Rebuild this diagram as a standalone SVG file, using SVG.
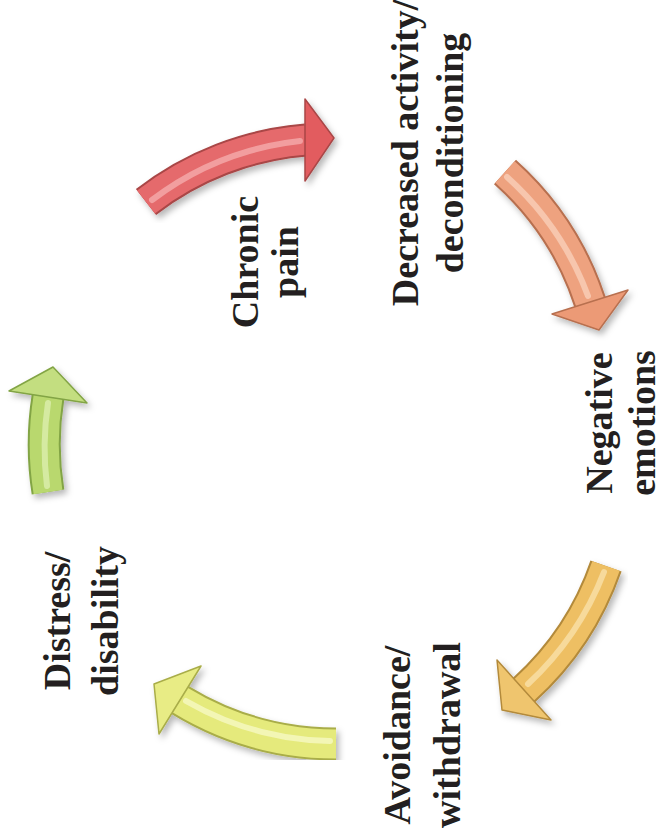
<svg xmlns="http://www.w3.org/2000/svg" width="667" height="833" viewBox="0 0 667 833">
  <style>
    .lbl { font-weight: bold; font-size: 38px; fill: #231f20; text-anchor: middle; }
    .shaft-edge { fill: none; stroke-width: 33; stroke-linecap: butt; }
    .shaft { fill: none; stroke-width: 29; stroke-linecap: butt; }
    .hl { fill: none; stroke-width: 6; stroke-linecap: round; opacity: 0.75; }
    .head { stroke-width: 1.5; stroke-linejoin: round; }
  </style>
  <defs>
    <filter id="shadow" x="-20%" y="-20%" width="140%" height="140%">
      <feDropShadow dx="3" dy="4" stdDeviation="3" flood-color="#000" flood-opacity="0.28"/>
    </filter>
  </defs>

  <g id="connectors">
    <g id="arrow-red" filter="url(#shadow)">
      <path class="shaft-edge" stroke="#a94646" d="M146,202 A300,300 0 0 1 306,140"/>
      <path class="shaft" stroke="#e56a6c" d="M146,202 A300,300 0 0 1 306,140"/>
      <path class="hl" stroke="#f6b0b0" d="M152,200 A300,300 0 0 1 300,141"/>
      <polygon class="head" fill="#e25c5f" stroke="#a94646" points="305,99 334,138 305,181"/>
    </g>
    <g id="arrow-orange" filter="url(#shadow)">
      <path class="shaft-edge" stroke="#b8704f" d="M505,172 A300,300 0 0 1 590,302"/>
      <path class="shaft" stroke="#eea27f" d="M505,172 A300,300 0 0 1 590,302"/>
      <path class="hl" stroke="#f9d2bc" d="M507,177 A300,300 0 0 1 588,296"/>
      <polygon class="head" fill="#ec9a76" stroke="#b8704f" points="628,290 599,330 552,314"/>
    </g>
    <g id="arrow-amber" filter="url(#shadow)">
      <path class="shaft-edge" stroke="#b38a3b" d="M606,566 A300,300 0 0 1 524,690"/>
      <path class="shaft" stroke="#eebf63" d="M606,566 A300,300 0 0 1 524,690"/>
      <path class="hl" stroke="#f9e3ad" d="M604,572 A300,300 0 0 1 528,684"/>
      <polygon class="head" fill="#efc56e" stroke="#b38a3b" points="551,720 502,710 497,660"/>
    </g>
    <g id="arrow-yellow" filter="url(#shadow)">
      <path class="shaft-edge" stroke="#a9ad48" d="M336,744 A300,300 0 0 1 180,700"/>
      <path class="shaft" stroke="#e5ea7c" d="M336,744 A300,300 0 0 1 180,700"/>
      <path class="hl" stroke="#f7f9c8" d="M330,741 A300,300 0 0 1 186,701"/>
      <polygon class="head" fill="#e8ec85" stroke="#a9ad48" points="201,666 154,684 159,734"/>
    </g>
    <g id="arrow-green" filter="url(#shadow)">
      <path class="shaft-edge" stroke="#82a444" d="M48,492 A300,300 0 0 1 48,397"/>
      <path class="shaft" stroke="#b9d86e" d="M48,492 A300,300 0 0 1 48,397"/>
      <path class="hl" stroke="#dff0b3" d="M47,486 A300,300 0 0 1 48,403"/>
      <polygon class="head" fill="#c3de80" stroke="#82a444" points="87,403 53,367 9,391"/>
    </g>
  </g>

  <g font-family="'Liberation Serif', 'DejaVu Serif', serif">
    <g id="node-chronic-pain" transform="translate(258,262) rotate(-90)">
      <text class="lbl" x="0" y="0">Chronic</text>
      <text class="lbl" x="0" y="40">pain</text>
    </g>
    <g id="node-decreased-activity" transform="translate(418,153) rotate(-90)">
      <text class="lbl" x="0" y="0">Decreased activity/</text>
      <text class="lbl" x="0" y="45">deconditioning</text>
    </g>
    <g id="node-negative-emotions" transform="translate(612,423) rotate(-90)">
      <text class="lbl" x="0" y="0">Negative</text>
      <text class="lbl" x="0" y="43">emotions</text>
    </g>
    <g id="node-avoidance" transform="translate(410,735) rotate(-90)">
      <text class="lbl" x="0" y="0">Avoidance/</text>
      <text class="lbl" x="0" y="50">withdrawal</text>
    </g>
    <g id="node-distress" transform="translate(70,621) rotate(-90)">
      <text class="lbl" x="0" y="0">Distress/</text>
      <text class="lbl" x="0" y="48">disability</text>
    </g>
  </g>
</svg>
